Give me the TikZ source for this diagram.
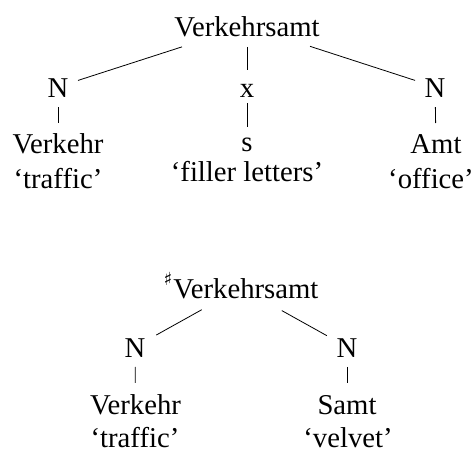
\documentclass[tikz,border=0pt]{standalone}
\usepackage{fontspec}
\setmainfont{Liberation Serif}
\newfontfamily\symfont{DejaVu Sans}
\usetikzlibrary{calc}
\begin{document}
\begin{tikzpicture}[x=1pt,y=-1pt,
  lbl/.style={anchor=base,inner sep=0pt,text height=20.25pt,text depth=0pt,font=\fontsize{28.7}{34}\selectfont},
  edge/.style={line width=0.8pt}]
\useasboundingbox (0,0) rectangle (475,453);
% top tree
\node[lbl] (r1) at (247,36) {Verkehrsamt};
\node[lbl] (n1) at (58,97) {N};
\node[lbl] (x1) at (247,97) {x};
\node[lbl] (n2) at (435,97) {N};
\node[lbl] (w1) at (58,153) {Verkehr};
\node[lbl] (w2) at (247,151) {s};
\node[lbl] (w3) at (436,153) {Amt};
\node[lbl] (g1) at (58,188) {`traffic'};
\node[lbl] (g2) at (247,181) {`filler letters'};
\node[lbl] (g3) at (431,188) {`office'};
\draw[edge] ($(r1)!0.344!(n1)$) -- ($(r1)!0.894!(n1)$);
\draw[edge] ($(r1)!0.346!(x1)$) -- ($(r1)!0.723!(x1)$);
\draw[edge] ($(r1)!0.335!(n2)$) -- ($(r1)!0.894!(n2)$);
\draw[edge] ($(n1)!0.36!(w1)$) -- ($(n1)!0.645!(w1)$);
\draw[edge] ($(x1)!0.30!(w2)$) -- ($(x1)!0.743!(w2)$);
\draw[edge] ($(n2)!0.36!(w3)$) -- ($(n2)!0.645!(w3)$);
% bottom tree
\node[lbl] (r2) at (241,298) {\raisebox{13pt}{\fontsize{18}{18}\selectfont\symfont ♯}\kern1pt Verkehrsamt};
\node[lbl] (n3) at (135,357) {N};
\node[lbl] (n4) at (347,357) {N};
\node[lbl] (w4) at (135.5,414) {Verkehr};
\node[lbl] (w5) at (347,414) {Samt};
\node[lbl] (g4) at (135,447) {`traffic'};
\node[lbl] (g5) at (348,447) {`velvet'};
\draw[edge] ($(r2)!0.37!(n3)$) -- ($(r2)!0.80!(n3)$);
\draw[edge] ($(r2)!0.385!(n4)$) -- ($(r2)!0.81!(n4)$);
\draw[edge] ($(n3)!0.353!(w4)$) -- ($(n3)!0.633!(w4)$);
\draw[edge] ($(n4)!0.353!(w5)$) -- ($(n4)!0.633!(w5)$);
\end{tikzpicture}
\end{document}
